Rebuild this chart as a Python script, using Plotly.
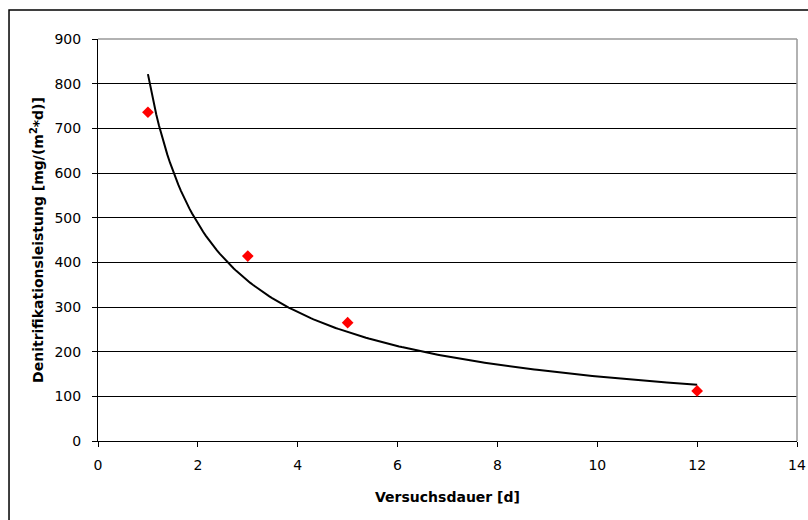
import numpy as np
import plotly.graph_objects as go

# Data
versuchsdauer = [1, 3, 5, 12]            # d
denitrifikation = [736, 414, 265, 112]   # mg/(m²*d)

x_ticks = [0, 2, 4, 6, 8, 10, 12, 14]
y_ticks = [0, 100, 200, 300, 400, 500, 600, 700, 800, 900]

# Power trendline (as Excel): ln y = ln a + b ln x
b, ln_a = np.polyfit(np.log(versuchsdauer), np.log(denitrifikation), 1)
a = np.exp(ln_a)
x_fit = np.linspace(min(versuchsdauer), max(versuchsdauer), 200)
y_fit = a * x_fit ** b

font_family = "DejaVu Sans, Verdana, sans-serif"

fig = go.Figure()
fig.add_trace(go.Scatter(
    x=x_fit, y=y_fit, mode="lines",
    line=dict(color="black", width=2),
    showlegend=False, hoverinfo="skip"))
fig.add_trace(go.Scatter(
    x=versuchsdauer, y=denitrifikation, mode="markers",
    marker=dict(symbol="diamond", color="#ff0000", size=9, line=dict(width=0)),
    showlegend=False))

fig.update_layout(
    width=808, height=520,
    margin=dict(l=98, r=11, t=39, b=79),
    paper_bgcolor="white", plot_bgcolor="white",
    font=dict(family=font_family, size=14, color="black"),
    xaxis=dict(
        range=[0, 14], tickvals=x_ticks, ticktext=[str(v) for v in x_ticks],
        showgrid=False, zeroline=False, automargin=False,
        showline=True, linecolor="black", linewidth=1,
        ticks="outside", ticklen=5, tickcolor="black",
        ticklabelstandoff=6,
        tickfont=dict(size=14),
        title=dict(text="<b>Versuchsdauer [d]</b>", font=dict(size=14), standoff=20),
    ),
    yaxis=dict(
        range=[0, 900], tickvals=y_ticks, ticktext=[str(v) for v in y_ticks],
        showgrid=True, gridcolor="black", gridwidth=1,
        zeroline=False, automargin=False,
        showline=True, linecolor="black", linewidth=1,
        ticks="outside", ticklen=5, tickcolor="black",
        ticklabelstandoff=8,
        tickfont=dict(size=14),
        title=dict(text="<b>Denitrifikationsleistung [mg/(m<sup>2</sup>*d)]</b>",
                   font=dict(size=14), standoff=7),
    ),
    shapes=[
        # gray top and right borders of plot area
        dict(type="line", xref="paper", yref="paper", x0=0, x1=1, y0=1, y1=1,
             line=dict(color="#999999", width=1.5), layer="above"),
        dict(type="line", xref="paper", yref="paper", x0=1, x1=1, y0=0, y1=1,
             line=dict(color="#999999", width=1.5), layer="above"),
        # outer chart border (clipped at right and bottom)
        dict(type="rect", xref="paper", yref="paper",
             x0=-0.1273, x1=1.2, y0=-0.4, y1=1.0721,
             line=dict(color="black", width=1.5), fillcolor="rgba(0,0,0,0)",
             layer="above"),
    ],
)

fig.write_html("out.html")
